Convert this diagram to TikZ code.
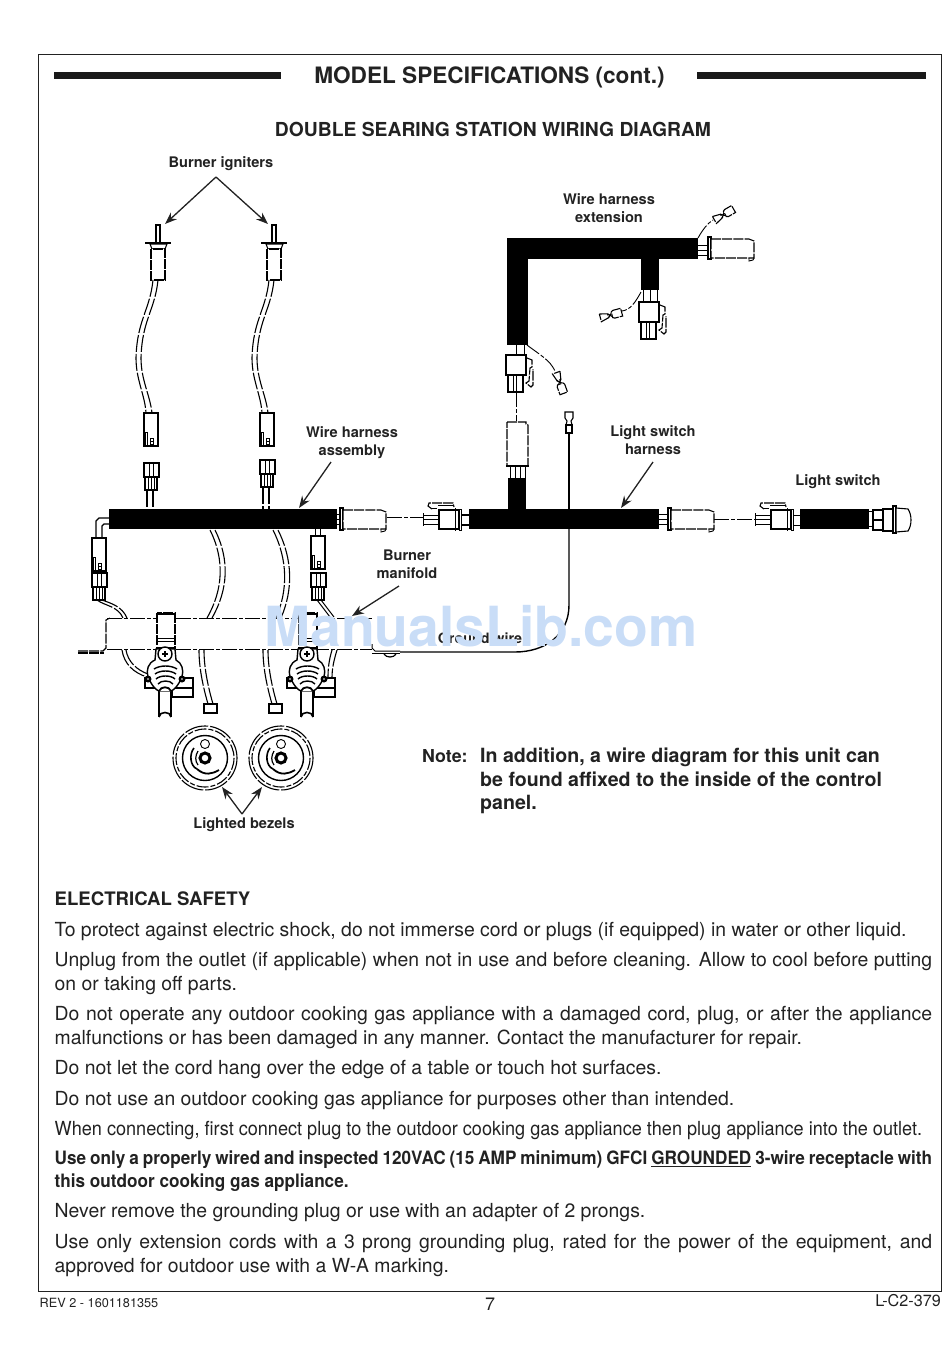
\documentclass[tikz,border=0pt]{standalone}
\usepackage{fontspec}
\setmainfont{TeX Gyre Heros}
\newfontfamily\narrowfont[FakeStretch=0.933]{TeX Gyre Heros}
\usetikzlibrary{arrows.meta}
\definecolor{inkc}{HTML}{222222}
\definecolor{markc}{HTML}{C9DDF7}
\tikzset{
  lbl/.style={font=\bfseries\fontsize{14.6}{18}\selectfont,align=center,text=inkc,inner sep=0pt},
  para/.style={anchor=north west,text width=877.5pt,align=justify,inner sep=0pt,text=inkc,
    font=\fontsize{19.4}{24}\selectfont},
  note/.style={anchor=north west,inner sep=0pt,text=inkc,align=left,
    font=\bfseries\fontsize{19.6}{23.5}\selectfont},
  wire/.style={line width=1.1pt,dash pattern=on 17pt off 2pt},
  dshd/.style={line width=1.1pt,dash pattern=on 10pt off 1.2pt},
  dsdt/.style={line width=.9pt,dash pattern=on 15pt off 2pt on 4pt off 2pt},
  part/.style={line width=1.1pt,fill=white},
  lead/.style={line width=1.3pt,draw=inkc,-{Stealth[length=12pt,width=9pt]}},
}
\begin{document}
\begin{tikzpicture}[x=1pt,y=-1pt]
\useasboundingbox (0,0) rectangle (950,1360);

\newcommand\Twin[4]{%% double wire, one S bend
  \draw[wire] #1 .. controls #2 and #3 .. #4;
  \draw[wire,xshift=5pt] #1 .. controls #2 and #3 .. #4;}
\newcommand\Igniter[1]{%% igniter with wire and socket
  \begin{scope}[xshift=#1 pt]
  \draw[part] (156,225) rectangle (160,243);
  \draw[line width=1.8pt] (145,243) -- (171,243);
  \draw[part] (150,244) -- (167,244) -- (165,249) -- (152,249) -- cycle;
  \draw[dshd,fill=white] (151,249) rectangle (165,280);
  \draw[wire] (153,280) .. controls (150,310) and (137,320) .. (136,358)
     .. controls (136,380) and (145,395) .. (146,413);
  \draw[wire] (158,280) .. controls (155,310) and (142,320) .. (141,358)
     .. controls (141,380) and (150,395) .. (152,413);
  \end{scope}}
\newcommand\Socket[2]{%% socket, corner at x y
  \begin{scope}[shift={(#1,#2)}]
  \draw[part] (0,0) rectangle (14,33);
  \draw[line width=.8pt] (1,33) -- (1,19) -- (3,19) -- (3,33);
  \draw[line width=.8pt] (6,25) rectangle (9,31) (6,28) -- (9,28);
  \end{scope}}
\newcommand\Pinhead[2]{%% mating head, corner at x y
  \begin{scope}[shift={(#1,#2)}]
  \draw[part] (1,13) rectangle (13,27);
  \foreach \px in {4,7,10} \draw[line width=1pt] (\px,13) -- (\px,27);
  \draw[part] (0,0) rectangle (15,14);
  \draw[line width=1pt] (5,0) -- (5,14) (9,0) -- (9,14);
  \end{scope}}
\newcommand\Plug[2]{%% long plug to the right, body corner at x y
  \begin{scope}[shift={(#1,#2)}]
  \draw[part] (-3,-2) rectangle (0,20);
  \draw[dshd,fill=white] (0,0) -- (38,0) -- (43,2) -- (43,19) -- (0,19) -- cycle;
  \draw[line width=.9pt] (38,19) -- (38,22) -- (42,21) -- (43,19);
  \end{scope}}
\newcommand\Latched[2]{%% latched connector to the left, body corner at x y
  \begin{scope}[shift={(#1,#2)}]
  \draw[line width=1pt] (-16,5) -- (0,5) (-16,9) -- (0,9) (-16,14) -- (0,14) (-16,3) -- (-16,16);
  \draw[part] (0,0) rectangle (20,19);
  \draw[line width=1pt] (16,-2) -- (16,21) (20,-1) -- (22,-1) -- (22,20) -- (20,20);
  \draw[dshd] (-7,-1) -- (-11,-4) -- (-10,-7) -- (14,-7) -- (15,-3);
  \draw[line width=.9pt] (-8,-2) -- (-2,-2) (-1,-5) -- (14,-5);
  \end{scope}}
\newcommand\Dropper[2]{%% connector pointing down, head corner at x y
  \begin{scope}[shift={(#1,#2)}]
  \draw[part] (2,19) rectangle (17,37);
  \draw[line width=1pt] (7,19) -- (7,37) (10,19) -- (10,37);
  \draw[part] (0,0) rectangle (20,20);
  \draw[line width=1pt] (-1,0) -- (21,0);
  \draw[dshd] (21,3) -- (26,5) -- (26,12) -- (24,13) -- (23,26) -- (20,28) -- (25,32) -- (27,30) -- (27,14);
  \end{scope}}
\newcommand\Splice[3]{%% two tiny crimp boxes, centre at x y, turned by #3
  \begin{scope}[shift={(#1,#2)},rotate=#3]
  \draw[dshd,fill=white] (-11,-4) -- (-3,-2) -- (-3,2) -- (-11,4) -- cycle;
  \draw[line width=1.1pt] (-3,-2) -- (1,2) (-3,2) -- (1,-2);
  \draw[dshd,fill=white] (1,-3) -- (3,-4) -- (11,-4) -- (11,4) -- (3,4) -- (1,3) -- cycle;
  \end{scope}}
\newcommand\Valve[1]{%% gas valve with knob stem
  \begin{scope}[xshift=#1 pt]
  \draw[dshd,fill=white] (157,613) rectangle (175,648);
  \draw[line width=1.8pt] (157,614) -- (175,614);
  \draw[line width=1pt] (157,638) -- (175,638) (157,641) -- (175,641);
  \draw[part] (145,678) rectangle (160,688);
  \draw[part] (172,678) rectangle (193,697) (172,688) -- (193,688);
  \draw[line width=1.4pt,fill=white] (156,649) -- (175,649) -- (176,660) .. controls (182,663) and (184,670) .. (182,677)
     .. controls (178,686) and (174,690) .. (171,691) -- (159,691)
     .. controls (156,690) and (152,686) .. (148,677)
     .. controls (146,670) and (148,663) .. (155,660) -- cycle;
  \draw[line width=1.4pt,fill=white] (165,654) circle (7);
  \draw[line width=1.2pt] (162,654) -- (168,654) (165,651) -- (165,657);
  \draw[line width=1.4pt] (154,669) .. controls (160,665) and (171,665) .. (177,669);
  \draw[line width=1.4pt] (155,674) .. controls (160,670) and (171,670) .. (176,674);
  \draw[line width=1.4pt] (156,679) .. controls (160,675) and (171,675) .. (175,679);
  \draw[line width=1.4pt] (158,684) .. controls (161,680) and (170,680) .. (173,684);
  \draw[line width=2.4pt,fill=white] (148,679) circle (2.2) (182,679) circle (2.2);
  \draw[part] (159,690) -- (159,717) (171,690) -- (171,717);
  \draw[line width=1.8pt,fill=white] (159,691) .. controls (161,686) and (169,686) .. (171,691);
  \draw[line width=1.6pt] (159,717) .. controls (159,711) and (171,711) .. (171,717);
  \end{scope}}
\newcommand\Bezel[1]{%% lighted bezel, seen from the front
  \begin{scope}[xshift=#1 pt]
  \draw[line width=1.1pt,dash pattern=on 24pt off 2pt] (205,758) circle (32);
  \draw[line width=1.1pt,dash pattern=on 12pt off 2pt on 5pt off 2pt] (205,758) circle (29);
  \draw[line width=1.4pt] (205,758) circle (22.5);
  \draw[line width=.9pt] (205,744) circle (4.5);
  \draw[line width=3pt] (205,758) circle (5);
  \draw[line width=1.6pt] (194,748) .. controls (189,754) and (190,766) .. (197,769);
  \draw[line width=1.2pt] (198,751) .. controls (195,756) and (195,761) .. (198,765);
  \draw[line width=1.8pt] (197,769) .. controls (205,776) and (212,774) .. (219,770);
  \end{scope}}

%% frame and headings
\draw[line width=1pt,draw=inkc] (38.5,54.5) rectangle (941,1291);
\fill[black!90] (54,72) rectangle (281,79);
\fill[black!90] (697,72) rectangle (926,79);
\node[inner sep=0pt,text=inkc,font=\bfseries\fontsize{22.6}{26}\selectfont] (title) at (489.5,77.5) {MODEL SPECIFICATIONS (cont.)};
\node[inner sep=0pt,text=inkc,font=\bfseries\fontsize{19.3}{22}\selectfont] (subtitle) at (493,129.5) {DOUBLE SEARING STATION WIRING DIAGRAM};

%% igniters
\Igniter{0}
\Igniter{116}
\Socket{144}{413}
\Socket{260}{413}
\Pinhead{144}{463}
\Pinhead{260}{460}
\draw[wire] (147,490) -- (147,509) (153,490) -- (153,509);
\draw[wire] (263,487) -- (263,509) (269,487) -- (269,509);

%% wire harness assembly
\draw[line width=1pt] (337,514) -- (341,514) (337,519) -- (341,519) (337,524) -- (341,524);
\Plug{343}{510}
\draw[dsdt] (387,517) -- (424,517);
\fill[black] (109,509) rectangle (337,529);

%% left branch
\draw[part,fill=none] (109,518) -- (99,518) -- (96,521) -- (96,538);
\draw[part,fill=none] (109,524) -- (104,524) -- (102,526) -- (102,538);
\Socket{92}{538}
\Pinhead{92}{573}
\draw[wire] (97,600) .. controls (105,606) and (118,606) .. (123,618);
\draw[wire] (102,600) .. controls (110,603) and (122,606) .. (127,618);
\draw[wire] (122,650) .. controls (124,664) and (134,673) .. (147,677);
\draw[wire] (126,650) .. controls (128,662) and (137,670) .. (148,674);

%% right branch of assembly
\draw[line width=1pt] (315,529) -- (315,536) (320,529) -- (320,536);
\Socket{311}{536}
\Pinhead{311}{573}
\draw[line width=1pt] (317,600) -- (330,617) (321,600) -- (334,617);
\draw[wire] (337,650) .. controls (334,660) and (332,668) .. (332,678);
\draw[wire] (332,650) .. controls (329,660) and (328,668) .. (328,678);

%% wires to the bezels
\Twin{(210,530)}{(225,560)}{(223,590)}{(207,618)}
\Twin{(273,530)}{(288,560)}{(288,590)}{(276,618)}
\Twin{(199,650)}{(199,670)}{(204,690)}{(208,704)}
\Twin{(263,650)}{(263,670)}{(268,690)}{(272,704)}
\draw[part] (204,704) rectangle (217,713) (204,704) -- (217,704);
\draw[part] (269,704) rectangle (282,713);

%% manifold
\draw[dsdt] (107,618) -- (372,618);
\draw[dsdt] (107,649) -- (372,649);
\draw[dshd] (78,651) -- (103,651) -- (106,648) -- (106,620) -- (110,618);
\draw[dshd] (78,653) -- (104,653);
\draw[line width=1pt] (372,644) -- (372,648) -- (375,651) -- (400,651);
\draw[line width=1pt] (372,653) -- (400,653);
\draw[line width=1.2pt] (384,654) .. controls (386,658) and (394,658) .. (396,654);
\Valve{0}
\Valve{142}

%% ground wire
\draw[part,line width=1.4pt,fill=none] (569,433) -- (569,509);
\draw[line width=1.4pt] (569,529) -- (569,605) .. controls (569,635) and (545,652) .. (515,652) -- (400,652);
\draw[line width=1.1pt,fill=white] (565,412) -- (573,412) -- (573,418) -- (571,421) -- (572,425) -- (566,425) -- (567,421) -- (565,418) -- cycle;
\draw[part] (566,425) rectangle (572,433);
\node[inner sep=0pt,text=inkc,font=\bfseries\fontsize{14.3}{16}\selectfont] (groundwire) at (480,638) {Ground wire};

%% wire harness extension
\fill[black] (507,238) rectangle (698,259);
\fill[black] (507,238) rectangle (528,345);
\fill[black] (641,259) rectangle (659,290);
\draw[line width=1pt] (698,245) -- (708,245) (698,250) -- (708,250) (698,255) -- (708,255);
\Plug{711}{239}
\draw[dsdt] (698,238) .. controls (703,229) and (708,223) .. (713,220);
\Splice{724}{214.5}{30}
\draw[line width=1pt] (643,290) -- (643,302) (650,290) -- (650,302) (657,290) -- (657,302);
\Dropper{639}{302}
\draw[dsdt] (641,292) .. controls (635,303) and (630,310) .. (622,311);
\Splice{611}{315}{15}
\draw[line width=1pt] (516,345) -- (516,355) (524,345) -- (524,355);
\Dropper{506}{355}
\draw[dsdt] (527,345) .. controls (540,355) and (550,360) .. (555,371);
\Splice{560}{383}{-70}
\draw[dsdt] (516,392) -- (516,421);

%% light switch harness
\draw[dshd,fill=white] (507,422) -- (526,422) -- (526,424) -- (528,425) -- (528,466) -- (507,466) -- cycle;
\draw[line width=1.6pt] (506,466) -- (529,466);
\foreach \wx in {510,515,520,525} \draw[line width=1pt] (\wx,466) -- (\wx,478);
\fill[black] (508,478) rectangle (526,510);
\fill[black] (469,509) rectangle (659,529);
\Latched{439}{510}
\draw[dshd] (461,515) -- (469,515) (461,525) -- (469,525);
\draw[line width=1pt] (659,514) -- (668,514) (659,519) -- (668,519) (659,524) -- (668,524);
\Plug{671}{510}
\draw[dsdt] (714,519) -- (755,519);

%% light switch
\Latched{771}{510}
\draw[line width=1pt] (793,515) -- (800,515) (793,525) -- (800,525);
\fill[black] (800,509) rectangle (869,529);
\draw[line width=1pt] (869,511) -- (873,511) (869,526) -- (873,526);
\draw[part] (873,510) rectangle (883,520) (873,520) rectangle (883,530);
\draw[part] (883,509) rectangle (893,531);
\draw[part] (893,506) rectangle (896,533);
\draw[part] (896,508) -- (908,509) .. controls (912,515) and (912,525) .. (908,531) -- (896,532) -- cycle;

%% bezels
\Bezel{0}
\Bezel{76}

%% labels
\node[lbl] (ignLbl) at (221,164) {Burner igniters};
\coordinate (ignApex) at (216,177);
\coordinate (ignTipA) at (165,224);
\coordinate (ignTipB) at (268,224);
\draw[lead] (ignApex) -- (ignTipA);
\draw[lead] (ignApex) -- (ignTipB);
\node[lbl] (asmLbl) at (352,443) {Wire harness\\assembly};
\coordinate (asmTail) at (331,462);
\coordinate (asmTip) at (299,508);
\draw[lead] (asmTail) -- (asmTip);
\node[lbl] (mnfLbl) at (407,564) {Burner\\manifold};
\coordinate (mnfTail) at (399,586);
\coordinate (mnfTip) at (352,616);
\draw[lead] (mnfTail) -- (mnfTip);
\node[lbl] (extLbl) at (609,208) {Wire harness\\extension};
\node[lbl] (lshLbl) at (653,440) {Light switch\\harness};
\coordinate (lshTail) at (653,462);
\coordinate (lshTip) at (621,508);
\draw[lead] (lshTail) -- (lshTip);
\node[lbl] (swLbl) at (838,482) {Light switch};
\node[lbl] (bezLbl) at (244,825) {Lighted bezels};
\coordinate (bezApex) at (242,814);
\coordinate (bezTipA) at (222,787);
\coordinate (bezTipB) at (262,787);
\draw[lead] (bezApex) -- (bezTipA);
\draw[lead] (bezApex) -- (bezTipB);

%% note
\node[note,font=\bfseries\fontsize{17.8}{23.5}\selectfont] (noteHead) at (422,749) {Note:};
\node[note] (noteBody) at (480,748) {In addition, a wire diagram for this unit can\\be found affixed to the inside of the control\\panel.};

%% watermark
\node[inner sep=0pt,text=markc,font=\bfseries\fontsize{55.3}{60}\selectfont] (mark) at (481,626) {ManualsLib.com};

%% safety text
\node[para,font=\bfseries\fontsize{18.6}{24}\selectfont] (safeHead) at (54.5,892) {ELECTRICAL SAFETY};
\node[para] (safeA) at (54.5,922) {To protect against electric shock, do not immerse cord or plugs (if equipped) in water or other liquid.};
\node[para] (safeB) at (54.5,952) {Unplug from the outlet (if applicable) when not in use and before cleaning. Allow to cool before putting\linebreak on or taking off parts.};
\node[para] (safeC) at (54.5,1006) {Do not operate any outdoor cooking gas appliance with a damaged cord, plug, or after the appliance\linebreak malfunctions or has been damaged in any manner. Contact the manufacturer for repair.};
\node[para] (safeD) at (54.5,1060) {Do not let the cord hang over the edge of a table or touch hot surfaces.};
\node[para] (safeE) at (54.5,1091) {Do not use an outdoor cooking gas appliance for purposes other than intended.};
\node[para,font=\narrowfont\fontsize{19.4}{24}\selectfont] (safeF) at (54.5,1121) {When connecting, first connect plug to the outdoor cooking gas appliance then plug appliance into the outlet.};
\node[para,font=\narrowfont\bfseries\fontsize{18.4}{23}\selectfont] (safeG) at (54.5,1151) {Use only a properly wired and inspected 120VAC (15 AMP minimum) GFCI \underline{GROUNDED} 3-wire receptacle with\linebreak this outdoor cooking gas appliance.};
\node[para] (safeH) at (54.5,1203) {Never remove the grounding plug or use with an adapter of 2 prongs.};
\node[para] (safeI) at (54.5,1234) {Use only extension cords with a 3 prong grounding plug, rated for the power of the equipment, and\linebreak approved for outdoor use with a W-A marking.};

%% footer
\node[anchor=west,inner sep=0pt,text=inkc,font=\fontsize{12.7}{13}\selectfont] (rev) at (39.5,1303) {REV 2 - 1601181355};
\node[inner sep=0pt,text=inkc,font=\fontsize{18}{20}\selectfont] (pageno) at (490,1304.5) {7};
\node[anchor=east,inner sep=0pt,text=inkc,font=\fontsize{16.2}{16}\selectfont] (docno) at (941,1301) {L-C2-379};

\end{tikzpicture}
\end{document}
